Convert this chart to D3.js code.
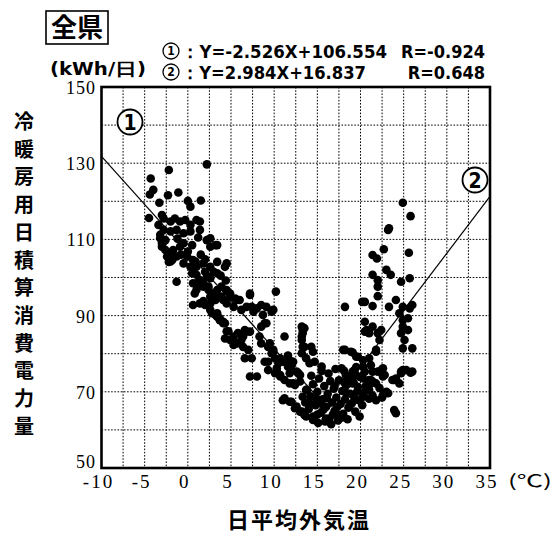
<!DOCTYPE html>
<html>
<head>
<meta charset="utf-8">
<script src="https://cdn.jsdelivr.net/npm/d3@7"></script>
<style>
  body { margin: 0; background: #fff; }
</style>
</head>
<body>
<svg id="chart" width="554" height="533"></svg>
<script>
// daily points [日平均外気温 ℃, 冷暖房用日積算消費電力量 kWh/日]
const coldSide = [
  [2.2,129.7],[-2.2,128.2],[-4.3,126],[-4.0,123],[-4.4,121.8],[-2.3,121.6],[-1.1,122.3],[-3.3,119.6],
  [0.0,120.1],[0.3,118.6],[1.5,120.2],[-4.5,115.6],[-3.0,116.4],[-3.4,113.8],[-2.8,112.5],[-3.2,110.3],
  [-2.6,109.8],[-2.0,114.7],[-1.5,115.5],[-0.9,114.7],[-0.3,115.1],[0.3,113.8],[1.0,115.1],[1.4,114.7],
  [-2.0,112.1],[-1.3,112.5],[-0.5,111.6],[0.3,112.1],[1.4,112.5],[2.2,109.8],[3.2,108.5],[2.6,108.1],
  [-3.0,109.0],[-2.6,107.2],[-2.0,106.4],[-1.3,105.5],[-1.7,107.2],[-0.9,108.1],[-2.4,105.5],[-1.8,104.6],
  [-0.5,103.7],[0.3,102.8],[1.0,102.8],[0.6,104.6],[-0.1,105.5],[1.8,103.7],[2.6,102.8],[3.4,104.1],
  [0.5,101.1],[1.0,100.7],[1.4,99.3],[2.2,100.2],[2.0,101.5],[4.5,103.7],[4.3,102.8],[1.0,98.0],
  [1.8,97.6],[2.4,96.7],[3.0,95.8],[3.4,96.7],[2.6,95.0],[3.2,94.1],[1.0,98.5],[3.4,101.1],
  [-2.0,104.2],[-1.3,98.9],[0.6,98.5],[2.6,99.8],[2.6,110.3],[3.4,108.5],[-2.8,115.5],[-3.2,111.2],
  [-3.0,108.1],[-2.2,104.1],[-0.5,109.0],[0.5,108.5],[1.2,110.5],[-1.2,110.2],[0.0,106.8],[1.5,106.0],
  [2.0,104.8],[-0.8,106.0],[0.9,104.2],[3.8,100.5],[4.4,99.2],[3.0,101.5],[1.8,98.5],[2.4,97.6]
];
const midSlope = [
  [3.9,97.6],[4.5,96.7],[4.9,95.0],[5.7,94.1],[5.3,92.3],[6.2,91.5],[6.8,92.3],[7.2,95.4],
  [0.6,92.8],[1.4,93.2],[2.0,92.8],[2.8,90.6],[3.4,89.7],[4.1,88.0],[4.5,85.9],[5.3,84.5],
  [5.7,82.7],[6.4,84.5],[6.8,85.8],[1.0,96.7],[0.8,95.8],[1.8,93.8],[2.6,93.2],[4.9,95.8],
  [5.5,94.5],[6.0,94.1],[7.2,95.8],[10.2,96.3],[7.4,92.3],[8.0,91.9],[8.5,92.8],[9.1,92.3],
  [9.7,91.0],[7.6,91.0],[8.9,88.0],[3.4,90.6],[3.7,88.8],[4.3,88.0],[4.7,85.9],[4.3,84.0],
  [4.9,83.6],[5.3,82.3],[5.8,85.4],[6.6,86.2],[7.2,85.8],[6.2,83.6],[6.4,81.8],[7.0,81.0],
  [7.4,78.8],[6.6,78.8],[8.3,84.5],[8.5,82.7],[9.3,81.8],[9.7,80.1],[10.1,78.8],[10.5,77.5],
  [9.3,77.9],[10.3,76.2],[11.4,78.3],[11.8,78.3],[13.0,74.4],[11.8,74.9],[12.6,75.3],[13.3,86.2],
  [13.2,84.5],[13.5,81.8],[7.2,74.0],[8.0,74.0],[3.4,95.4],[3.9,95.0],[4.1,94.1],[4.5,93.2],
  [2.6,91.5],[3.2,90.2],[3.7,89.3],[4.1,88.4],[9.9,91.5],[11.2,84.5],[13.2,87.1],[13.5,86.7],
  [13.3,85.4],[13.2,83.6],[13.3,81.8],[13.2,80.1],[14.3,81.8],[14.5,80.5],[15.5,76.6],[14.7,77.9],
  [14.1,77.5],[13.7,78.8],[9.9,80.5],[9.5,82.7],[11.0,77.9],[11.6,76.6],[10.3,75.3],[10.7,74.4],
  [12.8,74.9],[13.0,72.7],[12.2,72.2],[8.7,90.2],[8.5,87.1],[9.1,88.0],[9.9,81.0],[8.9,77.9],
  [9.3,75.7],[10.1,74.9],[10.7,74.0],[11.2,73.1],[11.8,72.2],[12.4,71.8],[11.4,77.9],[12.2,77.9],
  [10.7,78.8],[11.6,79.5],[12.0,77.0]
];
const warmCore = [
  [11.2,68.3],[12.0,67.4],[12.4,65.7],[13.0,64.8],[13.7,63.5],[14.5,62.6],[11.0,67.8],[11.8,67.4],
  [12.6,66.1],[13.2,64.8],[13.5,63.9],[14.5,63.5],[16.0,63.0],[17.6,63.9],[18.7,66.1],[13.3,68.7],
  [14.1,67.0],[13.7,70.5],[13.8,70.5],[14.2,68.8],[14.5,72.0],[14.8,66.5],[15.0,70.0],[15.2,73.5],
  [15.4,64.5],[15.6,68.0],[15.8,71.5],[16.0,66.0],[16.2,69.5],[16.4,63.0],[16.5,72.8],[16.7,67.2],
  [16.9,70.8],[17.0,65.0],[17.2,68.5],[17.4,62.5],[17.5,73.0],[17.7,66.8],[17.9,70.2],[18.0,64.2],
  [18.2,68.0],[18.4,71.8],[18.6,65.8],[18.8,69.5],[19.0,67.0],[19.2,72.5],[19.4,64.8],[19.6,70.0],
  [19.8,67.8],[20.0,73.8],[20.2,66.5],[20.4,69.8],[14.0,65.5],[14.6,62.8],[15.1,61.8],[15.9,62.2],
  [16.6,61.5],[17.8,63.2],[13.6,67.2],[14.3,74.2],[15.5,75.5],[16.3,74.8],[17.1,76.0],[18.1,75.5],
  [18.9,74.0],[19.5,76.5],[20.6,71.5],[21.0,70.5],[21.4,69.0],[22.2,71.0],[22.5,68.5],[19.9,63.5],
  [18.5,62.8],[16.8,64.0],[15.3,67.0],[14.9,68.2],[18.4,73.5],[19.1,72.2],[19.7,71.3],[23.0,70.0],
  [21.8,67.8],[21.0,68.2],[20.3,68.7],[24.1,64.4],[23.9,65.2],[23.2,69.6],[22.6,69.2],[15.7,65.3],
  [16.1,68.3],[17.3,66.0],[17.0,71.5],[18.3,69.8],[19.3,68.2],[15.0,64.0]
];
const hotSide = [
  [24.9,119.6],[25.8,116.1],[23.2,112.5],[23.3,112.9],[22.7,107.4],[21.4,105.9],[21.9,105.0],[25.6,106.5],
  [23.0,102.0],[23.5,100.7],[21.4,100.7],[22.0,99.3],[22.0,97.6],[24.7,98.9],[25.7,99.8],[22.0,95.1],
  [24.1,94.1],[20.5,93.6],[18.2,92.3],[21.4,92.5],[23.3,92.3],[24.9,92.3],[25.7,91.9],[26.0,92.8],
  [24.5,90.6],[24.9,88.8],[25.5,89.3],[20.5,88.4],[20.7,86.2],[21.4,87.1],[21.0,85.4],[20.5,85.8],
  [24.9,87.1],[25.5,86.2],[25.1,83.6],[24.9,81.4],[26.0,81.4],[18.2,81.0],[19.1,80.3],[19.7,79.2],
  [21.8,80.5],[17.8,76.2],[18.3,74.4],[19.1,75.3],[19.5,74.4],[20.3,76.6],[21.2,77.0],[21.4,75.3],
  [22.4,75.7],[22.6,74.0],[21.4,72.7],[21.0,71.8],[18.9,72.7],[18.2,72.2],[23.7,73.1],[24.7,75.3],
  [25.8,75.0],[24.5,72.2],[22.0,85.4],[22.2,83.6],[22.4,86.2],[24.7,85.4],[20.2,93.6],[18.0,81.0],
  [18.9,80.5],[19.5,79.2],[20.3,78.3],[21.0,78.8],[21.8,81.0],[19.3,75.7],[20.5,75.3],[20.3,73.5],
  [21.0,73.1],[21.8,72.2],[22.6,76.2],[22.8,74.4],[23.9,73.1],[24.7,74.9],[25.3,75.7],[24.9,75.7],
  [26.0,75.3],[24.1,73.5],[22.0,75.3],[21.2,73.1]
];

const xTicks = [-10, -5, 0, 5, 10, 15, 20, 25, 30, 35];
const yTicks = [50, 70, 90, 110, 130, 150];
const xGrid = [-7.5, -5, -2.5, 0, 2.5, 5, 7.5, 10, 12.5, 15, 17.5, 20, 22.5, 25, 27.5, 30, 32.5];
const yGrid = [60, 70, 80, 90, 100, 110, 120, 130, 140];

// regression ① and ②
const fitNo = ['1', '2'];
const fitSlope = [-2.526, 2.984];
const fitIntercept = [106.554, 16.837];
const fitText = ['：Y=-2.526X+106.554', '：Y=2.984X+16.837'];
const fitR = ['R=-0.924', 'R=0.648'];

const yTitle = '冷暖房用日積算消費電力量';

const svg = d3.select('#chart');
const x = d3.scaleLinear().domain([-10, 35]).range([101.5, 490]);
const y = d3.scaleLinear().domain([50, 150]).range([468, 87]);

const condensed = "'DejaVu Sans Condensed', 'Liberation Sans Narrow', sans-serif";
const gothic = "'Noto Sans CJK JP', sans-serif";
const serif = "'Liberation Serif', 'DejaVu Serif', serif";

// dotted grid
svg.selectAll('.vgrid').data(xGrid).enter().append('line')
  .attr('x1', d => x(d)).attr('x2', d => x(d))
  .attr('y1', y(150)).attr('y2', y(50))
  .attr('stroke', '#000').attr('stroke-width', 1)
  .attr('stroke-dasharray', '1.6,1.6');
svg.selectAll('.hgrid').data(yGrid).enter().append('line')
  .attr('x1', x(-10)).attr('x2', x(35))
  .attr('y1', d => y(d)).attr('y2', d => y(d))
  .attr('stroke', '#000').attr('stroke-width', 1)
  .attr('stroke-dasharray', '1.6,1.6');

// regression lines, meeting where they cross
const xCross = (fitIntercept[0] - fitIntercept[1]) / (fitSlope[1] - fitSlope[0]);
const segs = [[-10, xCross], [xCross, 35]];
const line = d3.line().x(d => x(d[0])).y(d => y(d[1]));
segs.forEach((s, i) => {
  svg.append('path')
    .datum(s.map(t => [t, fitSlope[i] * t + fitIntercept[i]]))
    .attr('d', line)
    .attr('fill', 'none').attr('stroke', '#000').attr('stroke-width', 1.2);
});

// scatter
const allPoints = coldSide.concat(midSlope, warmCore, hotSide);
svg.selectAll('.dot').data(allPoints).enter().append('circle')
  .attr('cx', d => x(d[0])).attr('cy', d => y(d[1]))
  .attr('r', 4.3).attr('fill', '#000');

// frame
svg.append('rect')
  .attr('x', x(-10)).attr('y', y(150))
  .attr('width', x(35) - x(-10)).attr('height', y(50) - y(150))
  .attr('fill', 'none').attr('stroke', '#000').attr('stroke-width', 2.6);

// circled number: ring plus digit
const circled = (cx, cy, r, n, size, sw) => {
  svg.append('circle').attr('cx', cx).attr('cy', cy).attr('r', r)
    .attr('fill', '#fff').attr('stroke', '#000').attr('stroke-width', sw);
  svg.append('text').attr('x', cx).attr('y', cy + size * 0.36)
    .attr('text-anchor', 'middle').attr('font-family', condensed)
    .attr('font-weight', 'bold').attr('font-size', size).text(n);
};
circled(130, 122, 12.5, fitNo[0], 21, 1.8);
circled(475, 180, 12.5, fitNo[1], 21, 1.8);

// tick labels
svg.selectAll('.ylab').data(yTicks).enter().append('text')
  .attr('x', 96).attr('y', d => y(d) + (d === 50 ? 0 : 7))
  .attr('text-anchor', 'end').attr('font-family', serif).attr('font-size', 18)
  .attr('letter-spacing', 1)
  .text(d => d);
svg.selectAll('.xlab').data(xTicks).enter().append('text')
  .attr('x', d => x(d) - 3).attr('y', 488)
  .attr('text-anchor', 'middle').attr('font-family', serif).attr('font-size', 19)
  .attr('letter-spacing', 2)
  .text(d => d);
svg.append('text').attr('x', 508).attr('y', 487)
  .attr('font-family', gothic).attr('font-size', 17)
  .attr('textLength', 44).attr('lengthAdjust', 'spacingAndGlyphs')
  .text('(℃)');

// titles
svg.append('text').attr('x', 299).attr('y', 528)
  .attr('text-anchor', 'middle').attr('font-family', gothic)
  .attr('font-weight', 'bold').attr('font-size', 22).attr('letter-spacing', 2)
  .text('日平均外気温');

svg.selectAll('.ytitle').data([...yTitle]).enter().append('text')
  .attr('x', 24).attr('y', (d, i) => 129 + i * 27.7)
  .attr('text-anchor', 'middle').attr('font-family', gothic)
  .attr('font-weight', 'bold').attr('font-size', 20)
  .text(d => d);

svg.append('rect').attr('x', 46).attr('y', 11).attr('width', 62).attr('height', 33)
  .attr('fill', 'none').attr('stroke', '#000').attr('stroke-width', 1.6);
svg.append('text').attr('x', 77).attr('y', 37)
  .attr('text-anchor', 'middle').attr('font-family', gothic)
  .attr('font-weight', 'bold').attr('font-size', 26)
  .text('全県');

// equations header
const hdrFont = t => t.attr('font-family', condensed).attr('font-weight', 'bold').attr('font-size', 18);
fitText.forEach((t, i) => {
  const yy = i === 0 ? 58 : 79;
  circled(171, yy - 7, 8, fitNo[i], 12, 1.3);
  svg.append('text').attr('x', 181).attr('y', yy).call(hdrFont)
    .attr('textLength', i === 0 ? 206 : 185).attr('lengthAdjust', 'spacingAndGlyphs')
    .text(t);
  svg.append('text').attr('x', 485).attr('y', yy).call(hdrFont)
    .attr('text-anchor', 'end')
    .text(fitR[i]);
});
svg.append('text').attr('x', 50).attr('y', 75).call(hdrFont)
  .attr('font-size', 17)
  .attr('textLength', 96).attr('lengthAdjust', 'spacingAndGlyphs')
  .text('(kWh/日)');
</script>
</body>
</html>
